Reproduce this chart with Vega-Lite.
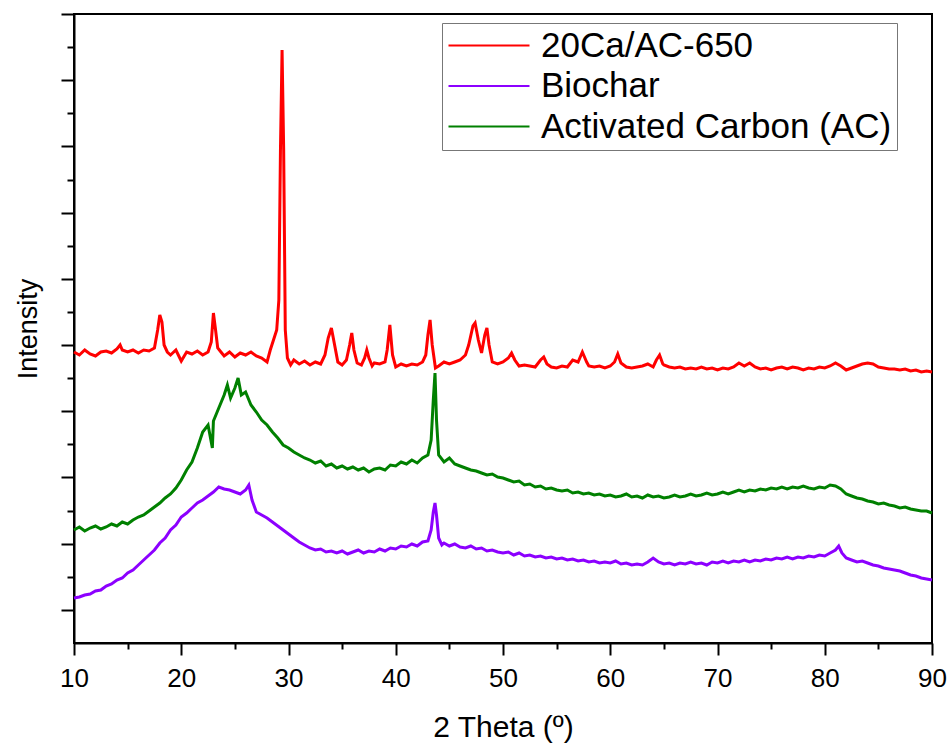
{
"$schema": "https://vega.github.io/schema/vega-lite/v6.json",
"width": 858, "height": 629,
"autosize": "none",
"padding": {"left": 74, "top": 14, "right": 15, "bottom": 101},
"background": "white",
"config": {"view": {"stroke": "black", "strokeWidth": 2}, "font": "Liberation Sans"},
"data": {"values": [
{"x":10,"R":291,"G":113,"P":45},{"x":10.5,"R":288,"G":116,"P":46},{"x":11,"R":293,"G":112,"P":48},{"x":11.5,"R":289,"G":115,"P":49},
{"x":12,"R":287,"G":117,"P":52},{"x":12.5,"R":291,"G":114,"P":53},{"x":13,"R":292,"G":116,"P":57},{"x":13.5,"R":290,"G":119,"P":59},
{"x":14,"R":294,"G":117,"P":63},{"x":14.5,"R":293,"G":121,"P":65},{"x":15,"R":291,"G":119,"P":70},{"x":15.5,"R":293,"G":123,"P":73},
{"x":16,"R":290,"G":126,"P":78},{"x":16.5,"R":293,"G":128,"P":83},{"x":17,"R":292,"G":132,"P":88},{"x":17.5,"R":295,"G":136,"P":93},
{"x":18,"R":328,"G":140,"P":100},{"x":18.5,"G":145,"P":105},{"x":19,"R":288,"G":149,"P":113},{"x":19.5,"R":293,"G":155,"P":118},
{"x":20,"R":282,"G":163,"P":126},{"x":20.5,"R":291,"G":173,"P":130},{"x":21,"R":289,"G":181,"P":135},{"x":21.5,"R":292,"G":195,"P":140},
{"x":22,"R":288,"G":211,"P":143},{"x":22.5,"R":291,"G":218,"P":147},{"x":23,"R":330,"G":222,"P":151},{"x":23.5,"G":235,"P":156},
{"x":24,"R":287,"G":248,"P":154},{"x":24.5,"R":291,"P":153},{"x":25,"R":286,"G":255,"P":151},{"x":25.5,"R":290,"P":149},
{"x":26,"R":288,"G":251,"P":153},{"x":26.5,"R":291,"G":238},{"x":27,"R":287,"G":231,"P":131},{"x":27.5,"R":285,"G":223,"P":128},
{"x":28,"R":281,"G":218,"P":125},{"x":28.5,"G":211,"P":121},{"x":29,"G":205,"P":117},{"x":29.5,"G":198,"P":113},
{"x":30,"G":195,"P":109},{"x":30.5,"R":283,"G":191,"P":105},{"x":31,"R":279,"G":188,"P":101},{"x":31.5,"R":282,"G":185,"P":98},
{"x":32,"R":278,"G":183,"P":95},{"x":32.5,"R":281,"G":180,"P":93},{"x":33,"R":279,"G":182,"P":94},{"x":33.5,"G":177,"P":91},
{"x":34,"R":315,"G":179,"P":92},{"x":34.5,"G":175,"P":90},{"x":35,"R":278,"G":177,"P":92},{"x":35.5,"G":174,"P":89},
{"x":36,"G":176,"P":91},{"x":36.5,"G":173,"P":93},{"x":37,"G":175,"P":90},{"x":37.5,"R":285,"G":171,"P":92},
{"x":38,"R":280,"G":174,"P":91},{"x":38.5,"R":279,"G":175,"P":94},{"x":39,"R":281,"G":173,"P":92},{"x":39.5,"G":178,"P":95},
{"x":40,"R":276,"G":177,"P":94},{"x":40.5,"R":279,"G":181,"P":97},{"x":41,"R":277,"G":179,"P":96},{"x":41.5,"R":279,"G":183,"P":99},
{"x":42,"R":278,"G":180,"P":97},{"x":42.5,"R":281,"G":185,"P":101},{"x":43,"R":308,"G":188,"P":102},{"x":43.5,"G":243,"P":131},
{"x":44,"R":277,"G":188,"P":105},{"x":44.5,"R":281,"G":181,"P":100},{"x":45,"R":279,"G":185,"P":97},{"x":45.5,"R":281,"G":179,"P":99},
{"x":46,"R":283,"G":177,"P":96},{"x":46.5,"R":288,"G":175,"P":95},{"x":47,"G":173,"P":97},{"x":47.5,"G":172,"P":94},
{"x":48,"R":290,"G":170,"P":95},{"x":48.5,"R":315,"G":168,"P":92},{"x":49,"R":281,"G":169,"P":93},{"x":49.5,"R":279,"G":166,"P":91},
{"x":50,"R":281,"G":165,"P":90},{"x":50.5,"R":285,"G":163,"P":91},{"x":51,"G":161,"P":88},{"x":51.5,"R":277,"G":162,"P":90},
{"x":52,"R":278,"G":158,"P":87},{"x":52.5,"R":277,"G":159,"P":88},{"x":53,"R":276,"G":156,"P":86},{"x":53.5,"R":283,"G":157,"P":87},
{"x":54,"G":154,"P":85},{"x":54.5,"R":276,"G":155,"P":86},{"x":55,"R":275,"G":153,"P":84},{"x":55.5,"R":277,"G":152,"P":85},
{"x":56,"R":276,"G":153,"P":83},{"x":56.5,"R":283,"G":150,"P":84},{"x":57,"R":281,"G":151,"P":82},{"x":57.5,"G":149,"P":83},
{"x":58,"R":277,"G":150,"P":81},{"x":58.5,"R":276,"G":148,"P":82},{"x":59,"R":277,"G":149,"P":80},{"x":59.5,"R":275,"G":147,"P":81},
{"x":60,"R":277,"G":148,"P":80},{"x":60.5,"G":146,"P":82},{"x":61,"R":280,"G":147,"P":79},{"x":61.5,"R":276,"G":149,"P":80},
{"x":62,"R":275,"G":146,"P":78},{"x":62.5,"R":276,"G":147,"P":79},{"x":63,"R":277,"G":145,"P":78},{"x":63.5,"R":279,"G":148,"P":81},
{"x":64,"R":276,"G":146,"P":85},{"x":64.5,"G":147,"P":81},{"x":65,"R":278,"G":145,"P":79},{"x":65.5,"R":276,"G":146,"P":80},
{"x":66,"R":275,"G":148,"P":78},{"x":66.5,"R":276,"G":146,"P":80},{"x":67,"R":274,"G":147,"P":79},{"x":67.5,"R":275,"G":149,"P":81},
{"x":68,"R":274,"G":147,"P":79},{"x":68.5,"R":276,"G":148,"P":80},{"x":69,"R":274,"G":150,"P":78},{"x":69.5,"R":275,"G":148,"P":81},
{"x":70,"R":273,"G":149,"P":80},{"x":70.5,"R":275,"G":151,"P":82},{"x":71,"R":274,"G":149,"P":80},{"x":71.5,"R":276,"G":151,"P":82},
{"x":72,"R":280,"G":153,"P":81},{"x":72.5,"R":277,"G":151,"P":83},{"x":73,"R":280,"G":153,"P":81},{"x":73.5,"R":276,"G":152,"P":83},
{"x":74,"R":274,"G":154,"P":82},{"x":74.5,"R":275,"G":153,"P":84},{"x":75,"R":273,"G":155,"P":83},{"x":75.5,"R":275,"G":154,"P":85},
{"x":76,"R":276,"G":156,"P":84},{"x":76.5,"R":274,"G":154,"P":86},{"x":77,"R":276,"G":156,"P":84},{"x":77.5,"R":275,"G":155,"P":86},
{"x":78,"R":273,"G":157,"P":85},{"x":78.5,"R":275,"G":155,"P":87},{"x":79,"R":274,"G":154,"P":86},{"x":79.5,"R":276,"G":156,"P":88},
{"x":80,"R":275,"G":155,"P":87},{"x":80.5,"R":277,"G":158,"P":90},{"x":81,"R":280,"G":157,"P":93},{"x":81.5,"R":277,"G":154},
{"x":82,"R":273,"G":149,"P":85},{"x":82.5,"R":275,"G":147,"P":83},{"x":83,"R":277,"G":145,"P":81},{"x":83.5,"R":279,"G":144,"P":82},
{"x":84,"R":280,"G":142,"P":80},{"x":84.5,"R":279,"G":141,"P":78},{"x":85,"R":276,"G":139,"P":77},{"x":85.5,"R":275,"G":140,"P":75},
{"x":86,"R":274,"G":138,"P":74},{"x":86.5,"R":274,"G":137,"P":73},{"x":87,"R":273,"G":135,"P":72},{"x":87.5,"R":274,"G":136,"P":70},
{"x":88,"R":272,"G":134,"P":68},{"x":88.5,"R":273,"G":133,"P":67},{"x":89,"R":271,"G":132,"P":65},{"x":89.5,"R":272,"G":132,"P":64},
{"x":90,"R":271,"G":130,"P":63},
{"x":14.3,"R":298},{"x":17.8,"R":313},{"x":18.2,"R":321},{"x":18.4,"R":298},{"x":18.7,"R":291},
{"x":22.8,"R":301},{"x":23.2,"R":313},{"x":23.4,"R":295},{"x":23.7,"R":291},
{"x":28.3,"R":293},{"x":28.6,"R":303},{"x":28.9,"R":313},{"x":29.1,"R":343},{"x":29.25,"R":493},{"x":29.4,"R":593},{"x":29.55,"R":493},{"x":29.7,"R":313},{"x":29.9,"R":285},{"x":30.2,"R":278},
{"x":33.4,"R":288},{"x":33.7,"R":305},{"x":34.3,"R":298},{"x":34.6,"R":281},
{"x":35.4,"R":283},{"x":35.7,"R":298},{"x":35.9,"R":310},{"x":36.1,"R":293},{"x":36.4,"R":280},{"x":36.8,"R":278},{"x":37.1,"R":285},{"x":37.3,"R":293},{"x":37.8,"R":277},
{"x":39.2,"R":293},{"x":39.45,"R":318},{"x":39.7,"R":288},
{"x":42.8,"R":288},{"x":43.2,"R":323},{"x":43.4,"R":298},{"x":43.7,"R":275},
{"x":46.8,"R":298},{"x":47.2,"R":317},{"x":47.4,"R":320},{"x":47.7,"R":303},{"x":48.3,"R":308},{"x":48.7,"R":298},
{"x":50.8,"R":290},{"x":51.1,"R":283},{"x":53.8,"R":286},{"x":54.1,"R":279},{"x":57.4,"R":291},{"x":57.8,"R":281},
{"x":60.4,"R":281},{"x":60.7,"R":289},{"x":64.3,"R":283},{"x":64.6,"R":288},{"x":64.9,"R":279},
{"x":22.9,"G":195},{"x":24.3,"G":258},{"x":24.6,"G":245},{"x":25.3,"G":265},{"x":25.6,"G":248},
{"x":43.3,"G":203,"P":113},{"x":43.66,"G":270,"P":140},{"x":43.8,"G":223,"P":128},
{"x":26.3,"P":158},{"x":26.6,"P":143},{"x":44.3,"P":98},{"x":81.3,"P":97},{"x":81.6,"P":90}
]},
"transform": [
  {"fold": ["R", "P", "G"], "as": ["s", "y"]},
  {"filter": "isValid(datum.y)"}
],
"mark": {"type": "line", "strokeWidth": 3},
"encoding": {
  "x": {"field": "x", "type": "quantitative",
    "scale": {"domain": [10, 90], "nice": false, "zero": false},
    "axis": {"title": "2 Theta (º)", "values": [10,15,20,25,30,35,40,45,50,55,60,65,70,75,80,85,90],
      "labelExpr": "datum.value % 10 === 0 ? datum.label : ''", "labelFlush": false,
      "tickSize": {"condition": {"test": "datum.value % 10 === 0", "value": 12}, "value": 6},
      "tickWidth": 2, "tickColor": "black", "domainColor": "black", "domainWidth": 2, "grid": false,
      "labelFontSize": 26, "labelColor": "black", "labelFont": "Liberation Sans", "labelPadding": 10,
      "titleFontSize": 30, "titleFontWeight": "normal", "titleColor": "black", "titleFont": "Liberation Sans", "titlePadding": 21}},
  "y": {"field": "y", "type": "quantitative",
    "scale": {"domain": [0, 629], "nice": false, "zero": false},
    "axis": {"title": "Intensity", "labels": false,
      "values": [33.1,66.2,99.3,132.4,165.5,198.6,231.7,264.8,297.9,331,364.1,397.2,430.3,463.4,496.5,529.6,562.7,595.8,628.9],
      "tickSize": {"condition": {"test": "round(datum.value / 33.1) % 2 === 1", "value": 13}, "value": 7},
      "tickWidth": 2, "tickColor": "black", "domainColor": "black", "domainWidth": 2, "grid": false,
      "titleFontSize": 27, "titleFontWeight": "normal", "titleColor": "black", "titleFont": "Liberation Sans", "titlePadding": 18}},
  "color": {"field": "s", "type": "nominal",
    "scale": {"domain": ["R", "P", "G"], "range": ["#ff0000", "#8c00ff", "#008000"]},
    "legend": {"orient": "none", "legendX": 368, "legendY": 9, "title": null,
      "labelExpr": "datum.label === 'R' ? '20Ca/AC-650' : datum.label === 'P' ? 'Biochar' : 'Activated Carbon (AC)'",
      "labelFontSize": 35, "labelFont": "Liberation Sans", "labelColor": "black", "labelLimit": 0,
      "symbolType": "M-1.0667,0H4.3333", "symbolSize": 900, "symbolStrokeWidth": 2, "labelOffset": 59,
      "padding": 5, "rowPadding": 4.5, "strokeColor": "#777777", "fillColor": "white"}}
}
}
